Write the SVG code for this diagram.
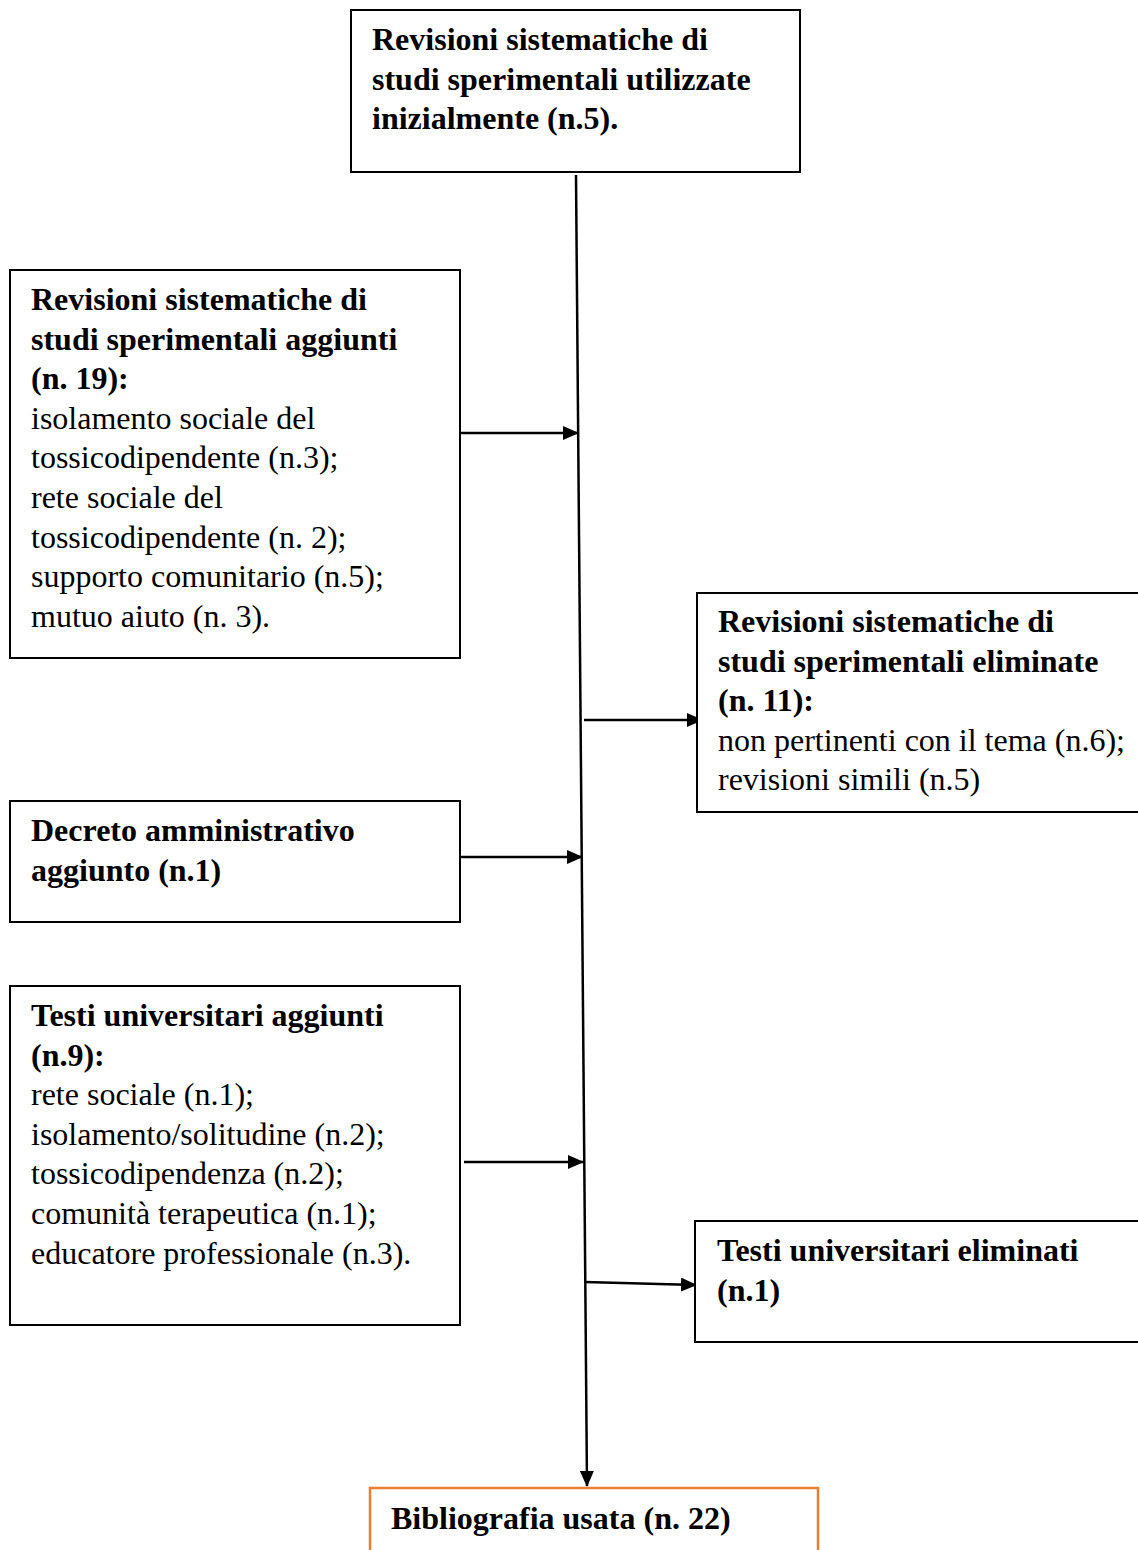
<svg xmlns="http://www.w3.org/2000/svg" width="1138" height="1550" viewBox="0 0 1138 1550">
<style>
.box{fill:#fff;stroke:#000;stroke-width:2}
.obox{fill:#fff;stroke:#ED7D31;stroke-width:2.5}
text{font-family:"Liberation Serif","Times New Roman",serif;font-size:32px;fill:#000}
.b{font-weight:bold}
.c{stroke:#000;stroke-width:2.5;fill:none}
</style>
<defs>
<marker id="ah2" markerWidth="16" markerHeight="14" refX="15" refY="7" orient="auto" markerUnits="userSpaceOnUse" viewBox="0 0 16 14">
<path d="M0,0 L16,7 L0,14 z" fill="#000"/>
</marker>
</defs>
<g id="connectors">
<line class="c" x1="576" y1="175" x2="587" y2="1486" marker-end="url(#ah2)"/>
<line class="c" x1="460" y1="433" x2="578" y2="433" marker-end="url(#ah2)"/>
<line class="c" x1="584" y1="720" x2="702" y2="720" marker-end="url(#ah2)"/>
<line class="c" x1="460" y1="857" x2="582" y2="857" marker-end="url(#ah2)"/>
<line class="c" x1="464" y1="1162" x2="583" y2="1162" marker-end="url(#ah2)"/>
<line class="c" x1="585" y1="1282" x2="696" y2="1285" marker-end="url(#ah2)"/>
</g>
<g id="n-top">
<rect class="box" x="351" y="10" width="449" height="162"/>
<text class="b" x="372" y="50">Revisioni sistematiche di</text>
<text class="b" x="372" y="90">studi sperimentali utilizzate</text>
<text class="b" x="372" y="129">inizialmente (n.5).</text>
</g>
<g id="n-aggiunti">
<rect class="box" x="10" y="270" width="450" height="388"/>
<text class="b" x="31" y="310">Revisioni sistematiche di</text>
<text class="b" x="31" y="350">studi sperimentali aggiunti</text>
<text class="b" x="31" y="389">(n. 19):</text>
<text x="31" y="429">isolamento sociale del</text>
<text x="31" y="468">tossicodipendente (n.3);</text>
<text x="31" y="508">rete sociale del</text>
<text x="31" y="548">tossicodipendente (n. 2);</text>
<text x="31" y="587">supporto comunitario (n.5);</text>
<text x="31" y="627">mutuo aiuto (n. 3).</text>
</g>
<g id="n-eliminate">
<rect class="box" x="697" y="593" width="445" height="219"/>
<text class="b" x="718" y="632">Revisioni sistematiche di</text>
<text class="b" x="718" y="672">studi sperimentali eliminate</text>
<text class="b" x="718" y="711">(n. 11):</text>
<text x="718" y="751">non pertinenti con il tema (n.6);</text>
<text x="718" y="790">revisioni simili (n.5)</text>
</g>
<g id="n-decreto">
<rect class="box" x="10" y="801" width="450" height="121"/>
<text class="b" x="31" y="841">Decreto amministrativo</text>
<text class="b" x="31" y="881">aggiunto (n.1)</text>
</g>
<g id="n-testi">
<rect class="box" x="10" y="986" width="450" height="339"/>
<text class="b" x="31" y="1026">Testi universitari aggiunti</text>
<text class="b" x="31" y="1066">(n.9):</text>
<text x="31" y="1105">rete sociale (n.1);</text>
<text x="31" y="1145">isolamento/solitudine (n.2);</text>
<text x="31" y="1184">tossicodipendenza (n.2);</text>
<text x="31" y="1224">comunità terapeutica (n.1);</text>
<text x="31" y="1264">educatore professionale (n.3).</text>
</g>
<g id="n-testi-elim">
<rect class="box" x="695" y="1221" width="447" height="121"/>
<text class="b" x="717" y="1261">Testi universitari eliminati</text>
<text class="b" x="717" y="1301">(n.1)</text>
</g>
<g id="n-biblio">
<rect class="obox" x="370" y="1488" width="448" height="70"/>
<text class="b" x="391" y="1529">Bibliografia usata (n. 22)</text>
</g>
</svg>
